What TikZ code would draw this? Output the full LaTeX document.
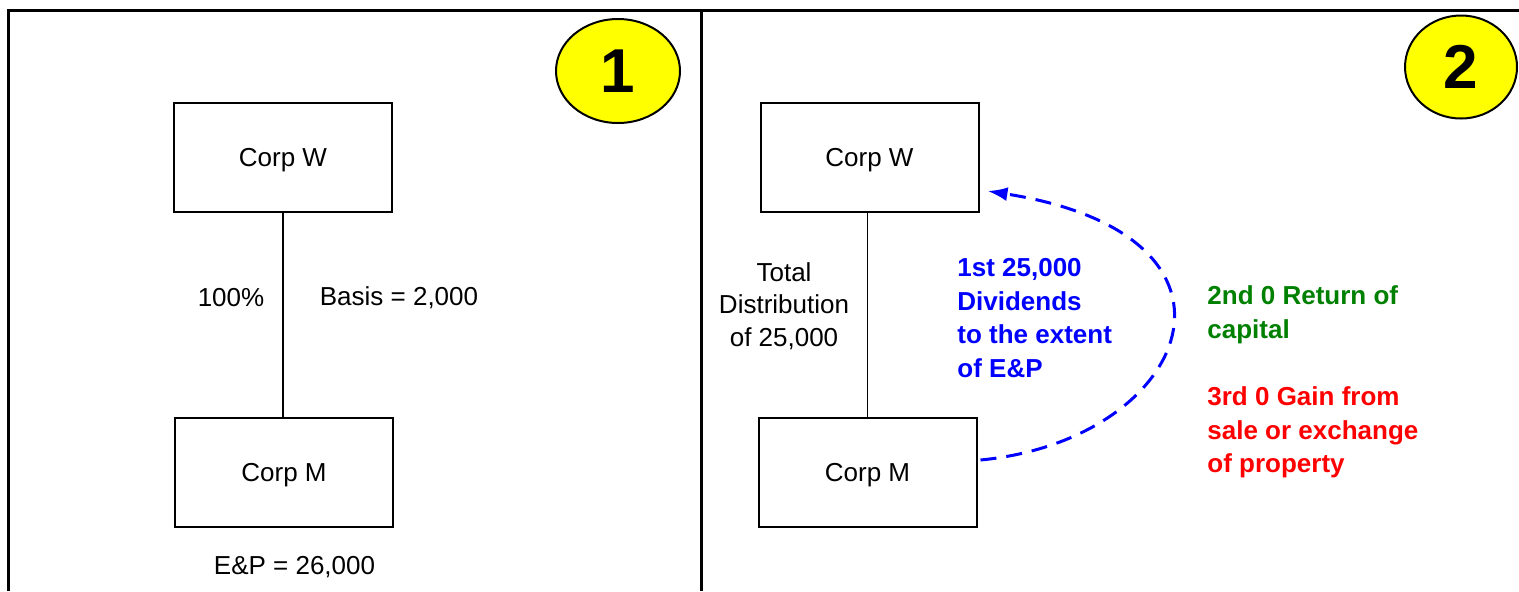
\documentclass[tikz,border=0pt]{standalone}
\usepackage{fontspec}
\setmainfont{Liberation Sans}
\usepackage{tikz}
\usetikzlibrary{arrows.meta,shapes.geometric}

\begin{document}
\begin{tikzpicture}[x=0.5pt,y=-0.5pt]

	\definecolor{darkgreen}{RGB}{0,128,0}
	\definecolor{markyellow}{RGB}{255,255,0}

	\tikzstyle{edge} = [draw,-,line width=0.75pt]
	\tikzstyle{frame} = [draw,line width=1.75pt]
	\useasboundingbox (0,0) rectangle (1519,591);

	% panel lines
	\draw[frame] (8.5,591) -- (8.5,10.5) -- (1519,10.5);
	\draw[frame] (701.5,10.5) -- (701.5,591);

	\tikzset{badge/.style = {shape=ellipse,draw,line width=1pt,fill=markyellow,inner sep=0pt,text depth=0pt,font=\fontsize{31}{31}\selectfont\bfseries}}
	\node[badge,minimum width=62pt,minimum height=52pt] (one) at (618,71) {1};
	\node[badge,minimum width=56pt,minimum height=51.5pt] (two) at (1461,67) {2};

	\tikzset{corp/.style = {shape=rectangle,draw,line width=1pt,minimum width=109pt,minimum height=54.5pt,text depth=0pt,font=\fontsize{13}{16}\selectfont}}
	\node[corp] (wl) at (283,157.5) {Corp W};
	\node[corp] (ml) at (284,472) {Corp M};
	\node[corp] (wr) at (869.5,157.5) {Corp W};
	\node[corp] (mr) at (867.5,472) {Corp M};

	\tikzset{note/.style = {inner sep=0pt,font=\fontsize{13}{16.25}\selectfont}}
	\tikzset{boldnote/.style = {inner sep=0pt,anchor=west,align=left,font=\fontsize{13}{16.75}\selectfont\bfseries}}
	\node[note] (own) at (231,298) {100\%};
	\node[note] (basis) at (399,298) {Basis = 2,000};
	\node[note] (ep) at (294.5,567) {E\&P = 26,000};
	\node[note,align=center] (total) at (784,306) {Total\\Distribution\\of 25,000};

	\node[boldnote,text=blue] (div) at (957,318) {1st 25,000\\Dividends\\to the extent\\of E\&P};
	\node[boldnote,text=darkgreen] (roc) at (1207,315) {2nd 0 Return of\\capital};
	\node[boldnote,text=red] (gain) at (1207,432.5) {3rd 0 Gain from\\sale or exchange\\of property};

	\draw[edge] (wl.south) to (wl.south |- ml.north);
	\draw[edge] (mr.north) to (mr.north |- wr.south);
	\draw[blue,line width=1.5pt,dash pattern=on 8pt off 5pt,-{Latex[length=10pt,width=7pt]}]
		([shift={(3,-12)}]mr.east) .. controls (1190,440) and (1274,236) .. ([shift={(8,33.5)}]wr.east);
\end{tikzpicture}
\end{document}
